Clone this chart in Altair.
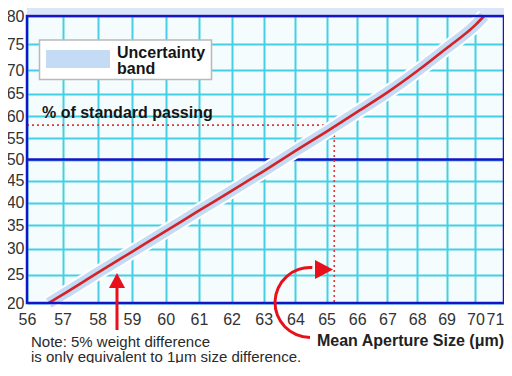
import altair as alt
import pandas as pd
from statistics import NormalDist

# ---- data ----
size_um = [56.61, 57, 58, 59, 60, 61, 62, 63, 64, 65, 66, 67, 68, 69, 70, 70.3]
pct_passing = [20, 21.4, 25.3, 29.4, 33.7, 38.2, 42.7, 47.3, 52.0, 56.5, 61.0, 65.3, 69.8, 74.3, 78.5, 80]

x_ticks = list(range(56, 72))
y_ticks = [20, 25, 30, 35, 40, 45, 50, 55, 60, 65, 70, 75, 80]

ref_pct = 58          # % of standard passing
ref_size = 65.25      # corresponding mean aperture
mid_pct = 50

note_lines = ["Note: 5% weight difference", "is only equivalent to 1\u03bcm size difference."]

nd = NormalDist()
y_tick_z = [nd.inv_cdf(p / 100) for p in y_ticks]

FONT = "Liberation Sans"
GRID = "#45cfe4"
NAVY = "#1414c8"
RED = "#d42326"
BAND = "#c3dbf5"

x_axis = alt.Axis(values=x_ticks, format="d", ticks=False, domain=False, grid=True,
                  gridColor=GRID, gridWidth=2, gridOpacity=1,
                  labelFont=FONT, labelFontSize=16, labelColor="#333333",
                  labelPadding=8, labelFlush=False, labelOverlap=False, labelBound=False,
                  labelOffset=alt.ExprRef(expr="datum.value >= 71 ? -9 : 0"),
                  title=None)
y_axis = alt.Axis(values=y_tick_z,
                  labelExpr="format(cumulativeNormal(datum.value)*100, '.0f')",
                  ticks=False, domain=False, grid=True,
                  gridColor=GRID, gridWidth=2, gridOpacity=1,
                  labelFont=FONT, labelFontSize=16, labelColor="#333333",
                  labelPadding=3, labelFlush=False, labelOverlap=False, labelBound=False,
                  title=None)

xs = alt.Scale(type="log", domain=[56, 71], nice=False)
ys = alt.Scale(domain=[y_tick_z[0], y_tick_z[-1]], nice=False, zero=False)


def X(f="size"):
    return alt.X(f"{f}:Q", scale=xs, axis=x_axis)


def Y(f="z"):
    return alt.Y(f"{f}:Q", scale=ys, axis=y_axis)


curve = pd.DataFrame({"size": size_um, "pct": pct_passing})
zcalc = "quantileNormal(datum.pct/100)"

base_curve = alt.Chart(curve).transform_calculate(z=zcalc)
band_white = base_curve.mark_line(color="white", strokeWidth=15, strokeCap="butt",
                                  interpolate="monotone").encode(x=X(), y=Y())
band = base_curve.mark_line(color=BAND, strokeWidth=11, strokeCap="butt",
                            interpolate="monotone").encode(x=X(), y=Y())
line = base_curve.mark_line(color=RED, strokeWidth=2.6, interpolate="monotone").encode(x=X(), y=Y())

# 50% line
mid = alt.Chart(pd.DataFrame({"pct": [mid_pct]})).transform_calculate(z=zcalc).mark_rule(
    color=NAVY, strokeWidth=2.5).encode(y=Y())

# dotted guide lines
guides = pd.DataFrame({
    "size": [x_ticks[0], ref_size],
    "size2": [ref_size, ref_size],
    "pct": [ref_pct, ref_pct],
    "pct2": [ref_pct, y_ticks[0]],
})
dotted = alt.Chart(guides).transform_calculate(
    z=zcalc, z2="quantileNormal(datum.pct2/100)"
).mark_rule(color="#e0383a", strokeWidth=1.6, strokeDash=[2, 3]).encode(
    x=X(), x2="size2:Q", y=Y(), y2="z2:Q")

# plot border
border_df = pd.DataFrame({"size": [x_ticks[0]], "size2": [x_ticks[-1]],
                          "pct": [y_ticks[0]], "pct2": [y_ticks[-1]]})
border = alt.Chart(border_df).transform_calculate(
    z=zcalc, z2="quantileNormal(datum.pct2/100)"
).mark_rect(filled=False, stroke=NAVY, strokeWidth=2.5).encode(
    x=X(), x2="size2:Q", y=Y(), y2="z2:Q")

one = pd.DataFrame({"a": [0]})
top_strip = alt.Chart(one).mark_rect(color="#dbe7f7").encode(
    x=alt.value(0), x2=alt.value(477), y=alt.value(-8), y2=alt.value(-1.5))

legend_box = alt.Chart(one).mark_rect(fill="white", stroke="#b9b9b9", strokeWidth=1.5).encode(
    x=alt.value(12.5), x2=alt.value(184.5), y=alt.value(24), y2=alt.value(63.5))
legend_swatch = alt.Chart(one).mark_rect(color=BAND).encode(
    x=alt.value(19), x2=alt.value(83), y=alt.value(34), y2=alt.value(52))
legend_t1 = alt.Chart(one).mark_text(text="Uncertainty", font=FONT, fontSize=16, fontWeight="bold",
                                     align="left", baseline="middle", color="#151515").encode(
    x=alt.value(90), y=alt.value(37))
legend_t2 = alt.Chart(one).mark_text(text="band", font=FONT, fontSize=16, fontWeight="bold",
                                     align="left", baseline="middle", color="#151515").encode(
    x=alt.value(90), y=alt.value(53))

std_label = alt.Chart(one).mark_text(text="% of standard passing", font=FONT, fontSize=16,
                                     fontWeight="bold", align="left", baseline="middle",
                                     color="#151515").encode(x=alt.value(15), y=alt.value(97))

x_title = alt.Chart(one).mark_text(text="Mean Aperture Size (\u03bcm)", font=FONT, fontSize=16,
                                   fontWeight="bold", align="right", baseline="alphabetic",
                                   color="#222222").encode(x=alt.value(477), y=alt.value(330))

note = alt.Chart(one).mark_text(text=note_lines, font=FONT, fontSize=15, lineHeight=14.5,
                                align="left", baseline="alphabetic", color="#2a2a2a").encode(
    x=alt.value(4), y=alt.value(331))

# straight arrow
shaft = alt.Chart(one).mark_rule(color="#e8101a", strokeWidth=3).encode(
    x=alt.value(90), y=alt.value(270), y2=alt.value(314))
head_up = alt.Chart(one).mark_point(shape="M0,-1L1.07,1L-1.07,1Z", size=225, filled=True,
                                    color="#e8101a", opacity=1).encode(
    x=alt.value(90), y=alt.value(264.5))

# curved arrow
arc = alt.Chart(one).mark_arc(innerRadius=33.5, outerRadius=36.5, theta=3.1416, theta2=6.35,
                              color="#e8101a").encode(x=alt.value(283), y=alt.value(286.5))
head_right = alt.Chart(one).mark_point(shape="M1,0L-1,-1.05L-1,1.05Z", size=324, filled=True,
                                       color="#e8101a", opacity=1).encode(
    x=alt.value(297), y=alt.value(253.5))

chart = alt.layer(
    top_strip, mid, dotted, band_white, band, line, border,
    legend_box, legend_swatch, legend_t1, legend_t2, std_label,
    x_title, note, shaft, head_up, arc, head_right
).properties(
    width=477, height=287,
    autosize=alt.AutoSizeParams(type="none"),
    padding={"left": 19, "top": 8, "right": 0, "bottom": 60},
    background="white",
).configure_view(fill="#f4fcfe", stroke=None)

chart.save("out.html", embed_options={"renderer": "svg", "actions": False})
